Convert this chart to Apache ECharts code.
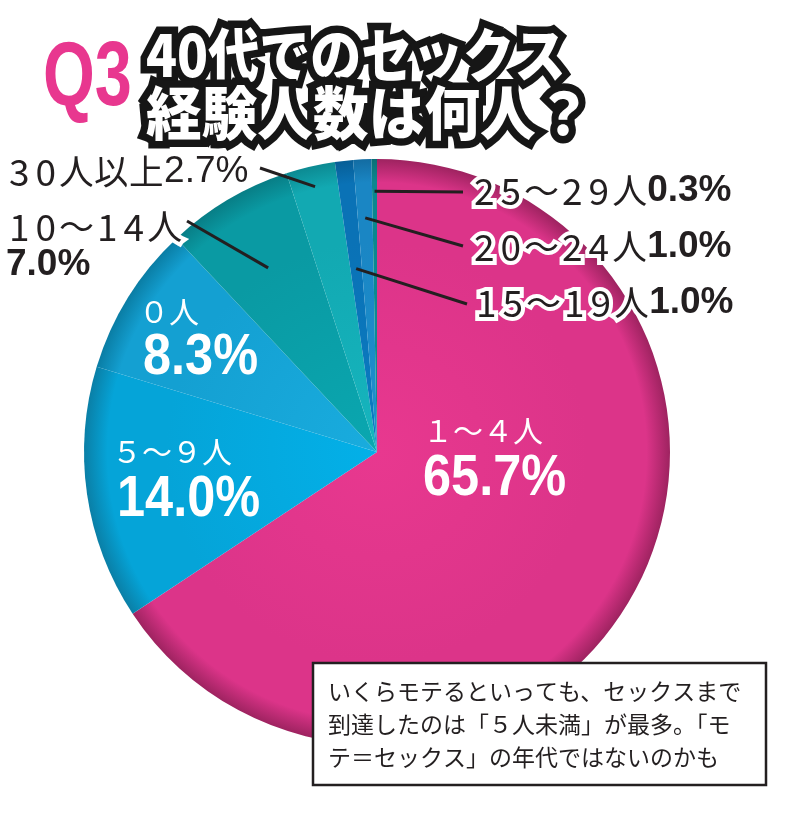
<!DOCTYPE html>
<html><head><meta charset="utf-8">
<script src="https://cdn.jsdelivr.net/npm/echarts@6/dist/echarts.min.js"></script>
<style>html,body{margin:0;padding:0;background:#fff}#c{width:804px;height:832px}</style>
</head><body><div id="c"></div>
<script>
// ---- data ----
const categories = ['1～4人', '5～9人', '0人', '10～14人', '30人以上', '15～19人', '20～24人', '25～29人'];
const shares = [65.7, 14.0, 8.3, 7.0, 2.7, 1.0, 1.0, 0.3];
const titleLines = ['40代でのセックス', '経験人数は何人？'];
const noteLines = [
  'いくらモテるといっても、セックスまで',
  '到達したのは「５人未満」が最多。「モ',
  'テ＝セックス」の年代ではないのかも'
];

// ---- styling / placement ----
const CX = 377, CY = 452, R = 293;
const INK = '#231f20';
const sliceColors = [
  ['#E8388F', '#DC3489', '#9E2360'],
  ['#03B0E8', '#05A4D8', '#0A7FA6'],
  ['#19ACDE', '#14A0D2', '#0A7DA4'],
  ['#0AA7B0', '#0A9AA3', '#087E86'],
  ['#16B5BE', '#12A9B2', '#0C8A92'],
  ['#0A7BC2', '#0A72B6', '#075E96'],
  ['#1D8FCE', '#1A86C4', '#136CA2'],
  ['#0C9098', '#0B878F', '#096E75']
];
// inside labels: [index, nameX, nameY, pctX, pctY]
const insidePlace = [
  [0, 423, 431, 423, 479],
  [1, 112, 452, 117, 500],
  [2, 139, 312, 143, 358]
];
// outside labels: [index, x, y, verticalAlign, anchorFraction, lineEndX, lineEndY]
const outsidePlace = [
  [3, 6, 208, 'top', 0.73, 187, 221],
  [4, 6, 172, 'middle', 0.93, 260, 168],
  [5, 473, 303, 'middle', 0.63, 467, 304],
  [6, 471, 247, 'middle', 0.80, 463, 246],
  [7, 471, 191, 'middle', 0.89, 463, 192]
];

const total = shares.reduce((a, b) => a + b, 0);
const midAngles = [];
let cum = 0;
shares.forEach(v => { midAngles.push(2 * Math.PI * (cum + v / 2) / total); cum += v; });

const toFull = s => s.replace(/[0-9]/g, d => String.fromCharCode(d.charCodeAt(0) + 0xFEE0));
const pctText = i => shares[i].toFixed(1) + '%';
const tokenize = s => s.split('').map(ch => (/[0-9]/.test(ch) ? '{d|' : '{n|') + ch + '}').join('');

const halo = {textBorderColor: '#fff', textBorderWidth: 8};
const outRich = {
  d: Object.assign({fontSize: 37, lineHeight: 38, color: INK, fontFamily: 'Noto Sans CJK JP', padding: [0, 3, 0, 3]}, halo),
  n: Object.assign({fontSize: 35, lineHeight: 38, color: INK, fontFamily: 'Noto Sans CJK JP'}, halo),
  p: Object.assign({fontSize: 37, lineHeight: 38, color: INK, fontWeight: 'bold', fontFamily: '"Liberation Sans", Arial'}, halo),
  q: Object.assign({fontSize: 37, lineHeight: 38, color: INK, fontWeight: 'normal', fontFamily: '"Liberation Sans", Arial'}, halo)
};

const outsideMap = {};
outsidePlace.forEach(o => { outsideMap[o[0]] = o; });

const pieData = categories.map((name, i) => {
  const c = sliceColors[i];
  const out = outsideMap[i];
  let fmt = '';
  if (out) {
    const pStyle = i === 4 ? 'q' : 'p';
    fmt = tokenize(name) + (i === 3 ? '\n' : '') + '{' + pStyle + '|' + pctText(i) + '}';
  }
  return {
    name: name,
    value: shares[i],
    itemStyle: {
      color: {type: 'radial', x: CX, y: CY, r: R, global: true,
        colorStops: [{offset: 0, color: c[0]}, {offset: 0.72, color: c[1]}, {offset: 0.92, color: c[1]}, {offset: 1, color: c[2]}]}
    },
    label: {show: !!out, position: 'outside', formatter: fmt, rich: outRich, align: 'left'},
    labelLine: {show: false}
  };
});

const graphics = [];
// title
graphics.push({type: 'text', x: 43, y: 80, scaleX: 0.74, z: 50,
  style: {text: 'Q3', fontSize: 90, fontWeight: 'bold', fontFamily: 'Liberation Sans', fill: '#E8378F', verticalAlign: 'middle', align: 'left'}});
graphics.push({type: 'text', x: 146, y: 55, scaleX: 0.88, z: 50,
  style: {text: titleLines[0], fontSize: 58, fontWeight: 900, fontFamily: 'Noto Sans CJK JP', fill: '#fff', stroke: '#161616', lineWidth: 15, lineJoin: 'round', strokeFirst: true, verticalAlign: 'middle', align: 'left'}});
graphics.push({type: 'text', x: 146, y: 113, scaleX: 0.96, z: 50,
  style: {text: titleLines[1], fontSize: 58, fontWeight: 900, fontFamily: 'Noto Sans CJK JP', fill: '#fff', stroke: '#161616', lineWidth: 15, lineJoin: 'round', strokeFirst: true, verticalAlign: 'middle', align: 'left'}});
// inside labels (from data arrays)
insidePlace.forEach(p => {
  const i = p[0];
  graphics.push({type: 'text', x: p[1], y: p[2], z: 40,
    style: {text: toFull(categories[i]), fontSize: 30, fontFamily: 'Noto Sans CJK JP', fill: '#fff', verticalAlign: 'middle', align: 'left'}});
  graphics.push({type: 'text', x: p[3], y: p[4], scaleX: 0.87, z: 40,
    style: {text: pctText(i), fontSize: 58, fontWeight: 'bold', fontFamily: 'Liberation Sans', fill: '#fff', verticalAlign: 'middle', align: 'left'}});
});
// leader lines, anchored at each slice's mid-angle
outsidePlace.forEach(o => {
  const a = midAngles[o[0]];
  const ax = CX + o[4] * R * Math.sin(a);
  const ay = CY - o[4] * R * Math.cos(a);
  graphics.push({type: 'line', z: 30, shape: {x1: ax, y1: ay, x2: o[5], y2: o[6]},
    style: {stroke: INK, lineWidth: 3}});
});
// note box
graphics.push({type: 'rect', z: 60, shape: {x: 313, y: 663, width: 453, height: 122},
  style: {fill: '#fff', stroke: INK, lineWidth: 2.5}});
noteLines.forEach((t, k) => {
  graphics.push({type: 'text', x: 328, y: 691 + k * 33, z: 61,
    style: {text: t, fontSize: 23, fontFamily: 'Noto Sans CJK JP', fill: INK, verticalAlign: 'middle'}});
});

const chart = echarts.init(document.getElementById('c'), null, {renderer: 'canvas'});
chart.setOption({
  backgroundColor: '#fff',
  animation: false,
  series: [{
    type: 'pie',
    center: [CX, CY],
    radius: R,
    startAngle: 90,
    clockwise: true,
    avoidLabelOverlap: false,
    itemStyle: {borderWidth: 0},
    emphasis: {disabled: true},
    z: 2,
    data: pieData,
    labelLayout: function (p) {
      const o = outsideMap[p.dataIndex];
      if (!o) return {};
      return {x: o[1], y: o[2], align: 'left', verticalAlign: o[3]};
    }
  }],
  graphic: graphics
});
</script></body></html>
